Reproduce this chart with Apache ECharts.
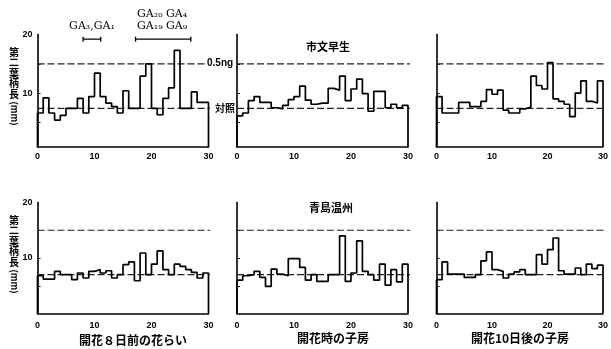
<!DOCTYPE html>
<html><head><meta charset="utf-8">
<script src="https://cdn.jsdelivr.net/npm/echarts@6/dist/echarts.min.js"></script>
<style>html,body{margin:0;padding:0;background:#fff}#c{width:611px;height:349px}</style>
</head><body><div id="c"></div>
<script>
// Fraction number (0-30) tick labels
const xTicks = [0, 10, 20, 30];
const yLabelTicks = [10, 20];
const yInnerTicks = [5, 10, 15];

// 市文早生 (top row)
const ichifumiBud = [6.6, 9.2, 6.6, 5.4, 6.2, 7.4, 7.4, 9.1, 6.6, 9.4, 13.4, 9.4, 8.3, 7.7, 6.6, 10.4, 7.4, 7.4, 12.9, 15.0, 7.4, 6.3, 9.1, 10.9, 17.3, 7.4, 7.4, 10.2, 8.4, 8.4];
const ichifumiAnthesis = [6.1, 6.6, 8.7, 9.4, 8.4, 8.4, 7.5, 7.3, 7.9, 8.9, 9.4, 11.2, 8.8, 8.1, 8.3, 8.3, 10.8, 10.5, 12.9, 8.7, 10.7, 12.4, 9.9, 6.9, 10.3, 10.3, 7.5, 8.1, 7.5, 7.9];
const ichifumi10d = [9.4, 6.6, 6.6, 6.6, 8.4, 8.4, 7.7, 7.7, 8.6, 10.6, 9.8, 10.5, 7.1, 6.6, 6.6, 7.3, 7.6, 12.9, 11.3, 10.7, 15.2, 9.0, 8.6, 8.1, 6.0, 10.0, 12.1, 8.6, 8.3, 12.1];
// 青島温州 (bottom row)
const aoshimaBud = [6.8, 6.2, 6.2, 7.6, 7.0, 7.0, 6.1, 7.3, 6.4, 7.6, 7.9, 7.3, 7.7, 6.4, 7.0, 8.8, 9.3, 5.9, 10.9, 7.0, 8.9, 11.3, 7.9, 7.0, 8.9, 8.5, 7.9, 7.4, 6.4, 7.3];
const aoshimaAnthesis = [6.0, 6.8, 7.0, 7.6, 6.5, 4.9, 8.0, 7.1, 6.8, 9.9, 9.9, 8.3, 6.0, 7.0, 5.8, 5.8, 7.0, 7.0, 14.0, 5.8, 7.3, 13.1, 7.6, 7.0, 6.0, 8.9, 5.1, 7.9, 5.7, 8.9];
const aoshima10d = [6.1, 9.3, 7.1, 7.1, 7.1, 6.5, 6.5, 7.0, 9.5, 11.1, 7.9, 7.6, 6.4, 7.1, 7.5, 7.9, 7.0, 7.0, 10.6, 8.9, 11.5, 13.6, 7.7, 7.1, 7.1, 8.2, 7.0, 8.9, 8.1, 8.7];

// reference levels
const level05ng = 15;
const controlTop = 7.4;
const controlBottom = 7.0;

// GA standard elution ranges (fractions)
const gaRanges = [[8.0, 11.1], [17.2, 26.9]];
const gaLevel = 19.2;

const yTitleChars = ['第', '二', '葉', '柄', '長'];

const panels = [ichifumiBud, ichifumiAnthesis, ichifumi10d, aoshimaBud, aoshimaAnthesis, aoshima10d];
const colLeft = [37.5, 237, 436.5];
const plotW = 171;
const rows = [{top: 34.5, height: 112.5, min: 0.8, ctrl: controlTop, lblMargin: 5, titleTop: 52},
              {top: 202.5, height: 111, min: 0, ctrl: controlBottom, lblMargin: 8, titleTop: 220}];

function stepPath(vals, base) {
  const pts = [[0, base]];
  vals.forEach((v, i) => { pts.push([i, v]); pts.push([i + 1, v]); });
  pts.push([vals.length, base]);
  return pts;
}

const grids = [], xAxes = [], yAxes = [], series = [];
const numFont = 'Liberation Sans';
panels.forEach((vals, k) => {
  const r = rows[Math.floor(k / 3)], c = k % 3;
  grids.push({left: colLeft[c], top: r.top, width: plotW, height: r.height});
  xAxes.push({
    gridIndex: k, type: 'value', min: 0, max: 30, interval: 10,
    axisLine: {show: true, onZero: false, lineStyle: {color: '#000', width: 1.6}},
    axisTick: {show: false}, splitLine: {show: false},
    axisLabel: {color: '#000', fontSize: 9, fontWeight: 'bold', fontFamily: numFont, margin: r.lblMargin}
  });
  yAxes.push({
    gridIndex: k, type: 'value', min: r.min, max: 20,
    axisLine: {show: true, lineStyle: {color: '#000', width: 1.6}},
    axisTick: {show: true, inside: true, length: 3, customValues: yInnerTicks, lineStyle: {color: '#000', width: 1}},
    splitLine: {show: false},
    axisLabel: {show: c === 0, customValues: yLabelTicks, color: '#000', fontSize: 9, fontWeight: 'bold', fontFamily: numFont, margin: 5}
  });
  series.push({
    type: 'line', xAxisIndex: k, yAxisIndex: k, data: [[0, level05ng], [k === 0 ? 29.8 : 31, level05ng]],
    symbol: 'none', clip: false, silent: true,
    lineStyle: {color: '#222', width: 1.2, type: [7, 3]}
  });
  series.push({
    type: 'line', xAxisIndex: k, yAxisIndex: k, data: [[0, r.ctrl], [31, r.ctrl]],
    symbol: 'none', clip: false, silent: true,
    lineStyle: {color: '#222', width: 1.2, type: [7, 3]}
  });
  series.push({
    type: 'line', xAxisIndex: k, yAxisIndex: k, data: stepPath(vals, r.min),
    symbol: 'none', clip: false, silent: true,
    lineStyle: {color: '#000', width: 1.7}
  });
});
gaRanges.forEach(rg => {
  series.push({
    type: 'line', xAxisIndex: 0, yAxisIndex: 0, data: [[rg[0], gaLevel], [rg[1], gaLevel]],
    symbol: 'rect', symbolSize: [1.3, 5], showSymbol: true, silent: true,
    itemStyle: {color: '#000'}, lineStyle: {color: '#000', width: 1.2}
  });
});

const jp = '"Noto Sans CJK JP"';
function txt(x, y, text, font, align, extra) {
  return {type: 'text', x: x, y: y, silent: true,
    style: Object.assign({text: text, font: font, fill: '#000', align: align || 'center', verticalAlign: 'middle'}, extra || {})};
}
const graphic = [
  txt(92, 26, 'GA₃,GA₁', '11px "DejaVu Serif"'),
  txt(137, 14, 'GA₂₀ GA₄', '11px "DejaVu Serif"', 'left'),
  txt(137, 26, 'GA₁₉ GA₉', '11px "DejaVu Serif"', 'left'),
  txt(207, 63, '0.5ng', 'bold 10px "Liberation Sans"', 'left'),
  txt(215, 108, '対照', 'bold 10px ' + jp, 'left'),
  txt(328, 47, '市文早生', 'bold 11px ' + jp),
  txt(331, 208, '青島温州', 'bold 11px ' + jp),
  txt(133, 340, '開花８日前の花らい', 'bold 12px ' + jp),
  txt(333, 338, '開花時の子房', 'bold 12px ' + jp),
  txt(520, 338, '開花10日後の子房', 'bold 12px ' + jp)
];
rows.forEach(r => {
  yTitleChars.forEach((ch, i) => graphic.push(txt(14, r.titleTop + i * 10.5, ch, 'bold 10px ' + jp)));
  const mm = txt(14, r.titleTop + yTitleChars.length * 10.5 + 9, '(mm)', 'bold 9px ' + jp);
  mm.rotation = -Math.PI / 2;
  graphic.push(mm);
});

const chart = echarts.init(document.getElementById('c'), null, {renderer: 'canvas'});
chart.setOption({
  animation: false, backgroundColor: '#fff',
  grid: grids, xAxis: xAxes, yAxis: yAxes, series: series, graphic: graphic
});
</script>
</body></html>
